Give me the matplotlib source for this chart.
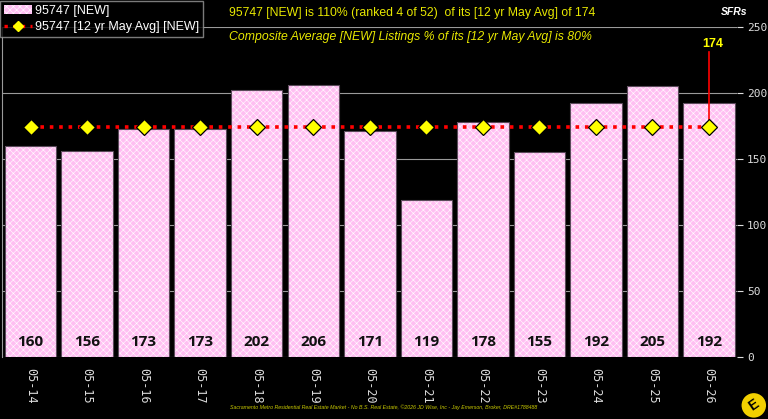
import numpy as np
import matplotlib.pyplot as plt
from matplotlib.patches import Circle, Patch
from matplotlib.lines import Line2D

# data
labels = ["05-14", "05-15", "05-16", "05-17", "05-18", "05-19", "05-20",
          "05-21", "05-22", "05-23", "05-24", "05-25", "05-26"]
listings = [160, 156, 173, 173, 202, 206, 171, 119, 178, 155, 192, 205, 192]
avg_value = 174
avg_line = [avg_value] * len(labels)

plt.rcParams['hatch.linewidth'] = 0.4
plt.rcParams['font.family'] = ['Liberation Sans', 'DejaVu Sans']

fig = plt.figure(figsize=(7.68, 4.19), dpi=100, facecolor='black')
ax = fig.add_axes([0.003, 0.148, 0.957, 0.788], facecolor='black')

x = np.arange(len(labels))
ax.set_xlim(-0.5, len(labels) - 0.5)
ax.set_ylim(0, 250)

# pink bars with a fine white cross-hatch, then a thin dark outline on top
ax.bar(x, listings, width=0.91, color='#ffbff2', edgecolor='white',
       linewidth=0, hatch='xxxxx', zorder=2)
ax.bar(x, listings, width=0.91, fill=False, edgecolor='#5a4a5a',
       linewidth=0.8, zorder=2)
for xi, v in zip(x, listings):
    ax.text(xi, 11, str(v), ha='center', va='center', fontsize=11,
            fontweight='bold', color='#111111', family='Open Sans', zorder=4)

ax.plot(x, avg_line, linestyle=(0, (1, 1.6)), color='red', linewidth=2.6, zorder=3)
ax.plot(x, avg_line, linestyle='none', marker='D', markersize=8,
        markerfacecolor='yellow', markeredgecolor='black', markeredgewidth=0.9, zorder=5)

# callout for the last point
ax.plot([x[-1], x[-1]], [avg_value, 231], color='red', linewidth=1.2, zorder=4)
ax.text(x[-1] + 0.07, 237, str(avg_value), ha='center', va='center', fontsize=9,
        fontweight='bold', color='yellow')

ax.yaxis.tick_right()
ax.set_yticks([0, 50, 100, 150, 200, 250])
ax.grid(axis='y', color='#9a9a9a', linewidth=0.8, zorder=0)
ax.tick_params(axis='y', colors='#dddddd', labelsize=8, length=4, pad=3)
for t in ax.get_yticklabels():
    t.set_family('DejaVu Sans Mono')
ax.set_xticks(x)
ax.set_xticklabels(labels, rotation=-90, family='DejaVu Sans Mono', fontsize=8.5,
                   color='#dddddd')
ax.tick_params(axis='x', length=0, pad=8)
for s in ['top', 'right', 'bottom']:
    ax.spines[s].set_visible(False)
ax.spines['left'].set_color('#9a9a9a')

# legend box in the top left corner
bar_handle = Patch(facecolor='#ffbff2', edgecolor='white', linewidth=0, hatch='xxxxx')
avg_handle = Line2D([0], [0], linestyle=(0, (1, 1.6)), color='red', linewidth=2.4,
                    marker='D', markersize=5, markerfacecolor='yellow',
                    markeredgecolor='yellow')
leg = fig.legend([bar_handle, avg_handle], ["95747 [NEW]", "95747 [12 yr May Avg] [NEW]"],
                 loc='upper left', bbox_to_anchor=(0.0, 0.997), fontsize=9,
                 frameon=True, facecolor='black', edgecolor='#9a9a9a', labelcolor='white',
                 handlelength=2.3, handletextpad=0.2, borderpad=0.3, labelspacing=0.35,
                 borderaxespad=0, fancybox=False)
leg.get_frame().set_linewidth(1)

fig.text(0.298, 0.969, "95747 [NEW] is 110% (ranked 4 of 52)  of its [12 yr May Avg] of 174",
         color='#e8e800', fontsize=8.8, ha='left', va='center')
fig.text(0.298, 0.912, "Composite Average [NEW] Listings % of its [12 yr May Avg] is 80%",
         color='#e8e800', fontsize=8.8, ha='left', va='center', style='italic')
fig.text(0.973, 0.972, "SFRs", color='white', fontsize=7.5, ha='right', va='center',
         fontweight='bold', style='italic')

fig.text(0.5, 0.028, "Sacramento Metro Residential Real Estate Market - No B.S. Real Estate, "
         "\u00a92026 JD Wise, Inc - Jay Emerson, Broker, DRE#1788488",
         color='#c8c800', fontsize=3.8, ha='center', va='center', style='italic')

# little logo in the corner
logo = fig.add_axes([0.963, 0.0, 0.037, 0.065])
logo.set_xlim(-1, 1)
logo.set_ylim(-1, 1)
logo.set_aspect('equal')
logo.axis('off')
logo.add_patch(Circle((0, 0), 0.95, facecolor='#f2d000', edgecolor='black', linewidth=1))
logo.text(0, 0, "E", rotation=35, ha='center', va='center', fontsize=10,
          fontweight='bold', color='black')

fig.savefig("out.png", dpi=100, facecolor='black')
